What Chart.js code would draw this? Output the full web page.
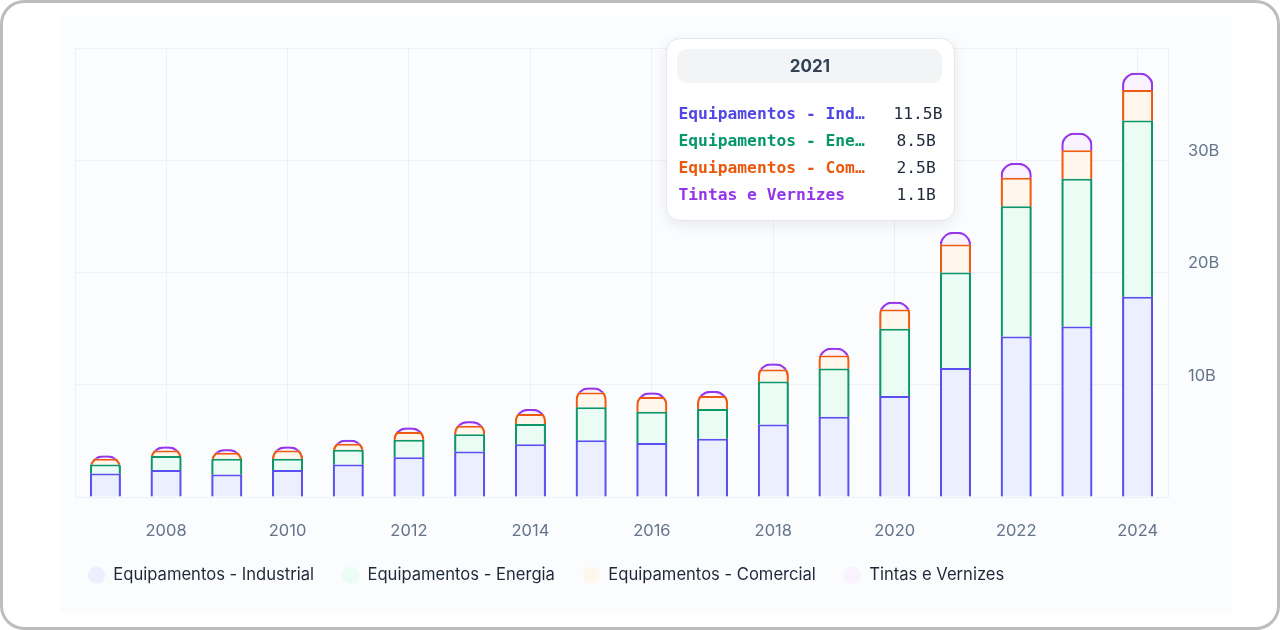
<!DOCTYPE html>
<html>
<head>
<meta charset="utf-8">
<script src="https://cdn.jsdelivr.net/npm/chart.js@4/dist/chart.umd.min.js"></script>
<style>
    html, body { margin: 0; padding: 0; background: #ffffff; }
    .card {
        position: relative;
        width: 1280px;
        height: 630px;
        box-sizing: border-box;
        border: 3px solid #bdbdbd;
        border-radius: 24px;
        background: #ffffff;
        overflow: hidden;
    }
    .chart-box {
        position: absolute;
        left: 57px;
        top: 13px;
        width: 1172px;
        height: 597px;
        background: #fbfcfd;
    }
    #tip {
        position: absolute;
        width: 289px;
        box-sizing: border-box;
        padding: 10px 12px 12px 10px;
        background: #ffffff;
        border: 1px solid #e3e6ec;
        border-radius: 14px;
        box-shadow: 0 4px 14px rgba(15, 23, 42, 0.08);
        pointer-events: none;
        opacity: 0;
    }
    #tip .tip-title {
        font: 700 17px Inter, sans-serif;
        height: 34px;
        line-height: 34px;
        border-radius: 10px;
        background: #f3f4f6;
        text-align: center;
        color: #334155;
        margin-bottom: 17px;
    }
    #tip .tip-row {
        font: 16.3px "DejaVu Sans Mono", monospace;
        display: flex;
        height: 27px;
        line-height: 27px;
        padding-left: 1px;
    }
    #tip .tip-label { width: 218px; font-weight: 700; white-space: nowrap; }
    #tip .tip-value { color: #1e293b; }
</style>
</head>
<body>
<div class="card">
    <div class="chart-box">
        <canvas id="fundChart"></canvas>
        <div id="tip"></div>
    </div>
</div>
<script>
// Chart data (values in billions)
const years = ['2007', '2008', '2009', '2010', '2011', '2012', '2013', '2014', '2015',
    '2016', '2017', '2018', '2019', '2020', '2021', '2022', '2023', '2024'];
const seriesNames = ['Equipamentos - Industrial', 'Equipamentos - Energia',
    'Equipamentos - Comercial', 'Tintas e Vernizes'];
const equipIndustrial = [2.1, 2.4, 2.0, 2.4, 2.9, 3.55, 4.05, 4.7, 5.05, 4.8, 5.2, 6.45, 7.15, 9.0, 11.5, 14.3, 15.2, 17.85];
const equipEnergia = [0.8, 1.25, 1.4, 1.0, 1.3, 1.55, 1.55, 1.8, 2.95, 2.8, 2.65, 3.85, 4.3, 6.0, 8.5, 11.6, 13.15, 15.7];
const equipComercial = [0.5, 0.5, 0.55, 0.75, 0.55, 0.7, 0.75, 0.9, 1.3, 1.3, 1.15, 1.05, 1.15, 1.7, 2.5, 2.55, 2.55, 2.7];
const tintasVernizes = [0.3, 0.35, 0.3, 0.35, 0.35, 0.4, 0.4, 0.45, 0.45, 0.4, 0.45, 0.55, 0.7, 0.7, 1.1, 1.3, 1.55, 1.55];
const yTicks = [0, 10, 20, 30, 40];
const tooltipYear = '2021';

const borderColors = ['#5a4ff0', '#0f9668', '#ee5a12', '#9536ec'];
const fillColors = ['#eceffe', '#eafcf3', '#fff6ec', '#f8f3ff'];
const labelColors = ['#4f46e5', '#059669', '#ea580c', '#9333ea'];

const gridColor = '#eef0f6';
const tickColor = '#64748b';
const capRadius = 13;

function shorten(label) {
    return label.length > 18 ? label.slice(0, 18) + '…' : label;
}

function formatB(v) {
    return v.toFixed(1) + 'B';
}

function externalTooltip(context) {
    const tip = document.getElementById('tip');
    const tooltip = context.tooltip;
    if (tooltip.opacity === 0) {
        tip.style.opacity = 0;
        return;
    }
    let html = '<div class="tip-title">' + tooltip.title.join(' ') + '</div>';
    tooltip.dataPoints.forEach(dp => {
        const i = dp.datasetIndex;
        html += '<div class="tip-row">' +
            '<span class="tip-label" style="color:' + labelColors[i] + '">' + shorten(dp.dataset.label) + '</span>' +
            '<span class="tip-value">' + formatB(dp.raw) + '</span></div>';
    });
    tip.innerHTML = html;
    const area = context.chart.chartArea;
    tip.style.left = (tooltip.caretX - tip.offsetWidth) + 'px';
    tip.style.top = (area.top - 10) + 'px';
    tip.style.opacity = 1;
}

// path of a whole stack with rounded top corners
function stackPath(c, left, top, width, bottom, r, closed) {
    r = Math.min(r, width / 2, bottom - top);
    c.moveTo(left, bottom);
    c.lineTo(left, top + r);
    c.arcTo(left, top, left + r, top, r);
    c.lineTo(left + width - r, top);
    c.arcTo(left + width, top, left + width, top + r, r);
    c.lineTo(left + width, bottom);
    if (closed) c.closePath();
}

function stackBoxes(chart) {
    const metas = chart.getSortedVisibleDatasetMetas();
    const bottomMeta = metas[0];
    const topMeta = metas[metas.length - 1];
    return bottomMeta.data.map((el, i) => {
        const topEl = topMeta.data[i];
        return { left: el.x - el.width / 2, width: el.width, top: topEl.y, bottom: el.base, index: i };
    });
}

// rounds the top of every stack, the curve keeps the colour of the segment it crosses
const roundedStacks = {
    id: 'roundedStacks',
    beforeDatasetsDraw(chart) {
        const c = chart.ctx;
        c.save();
        c.beginPath();
        stackBoxes(chart).forEach(b => stackPath(c, b.left, b.top, b.width, b.bottom + 2, capRadius, true));
        c.clip();
    },
    afterDatasetsDraw(chart) {
        const c = chart.ctx;
        c.restore();
        const metas = chart.getSortedVisibleDatasetMetas();
        stackBoxes(chart).forEach(b => {
            metas.forEach(meta => {
                const el = meta.data[b.index];
                c.save();
                c.beginPath();
                stackPath(c, b.left, b.top, b.width, b.bottom, capRadius, true);
                c.clip();
                c.beginPath();
                c.rect(b.left, el.y, b.width, el.base - el.y);
                c.clip();
                c.beginPath();
                stackPath(c, b.left, b.top, b.width, b.bottom, capRadius, false);
                c.lineWidth = 4;
                c.strokeStyle = borderColors[meta.index];
                c.stroke();
                c.restore();
            });
        });
    }
};

// fixed legend height so it sits close to the axis labels
const legendHeight = {
    id: 'legendHeight',
    afterInit(chart) {
        const legend = chart.legend;
        const fit = legend.fit;
        legend.fit = function() {
            fit.call(this);
            this.height = 50;
        };
    }
};

function makeDataset(i, values) {
    return {
        label: seriesNames[i],
        data: values,
        backgroundColor: fillColors[i],
        borderColor: borderColors[i],
        hoverBackgroundColor: fillColors[i],
        hoverBorderColor: borderColors[i],
        borderWidth: 2,
        barPercentage: 0.6,
        categoryPercentage: 0.85
    };
}

const datasets = [
    makeDataset(0, equipIndustrial),
    makeDataset(1, equipEnergia),
    makeDataset(2, equipComercial),
    makeDataset(3, tintasVernizes)
];

const ctx = document.getElementById('fundChart').getContext('2d');
const chart = new Chart(ctx, {
    type: 'bar',
    data: { labels: years, datasets: datasets },
    plugins: [roundedStacks, legendHeight],
    options: {
        responsive: true,
        maintainAspectRatio: false,
        animation: false,
        layout: { padding: { top: 32, right: 1, bottom: 24, left: 0 } },
        interaction: { mode: 'index', intersect: false },
        plugins: {
            legend: {
                position: 'bottom',
                align: 'start',
                labels: {
                    usePointStyle: true,
                    pointStyle: 'circle',
                    pointStyleWidth: 17,
                    boxHeight: 12,
                    padding: 28,
                    color: '#1e293b',
                    font: { family: 'Inter', size: 16.6 },
                    generateLabels: function(c) {
                        return Chart.defaults.plugins.legend.labels.generateLabels(c).map(item => {
                            item.lineWidth = 0;
                            item.strokeStyle = 'transparent';
                            return item;
                        });
                    }
                }
            },
            tooltip: {
                enabled: false,
                mode: 'index',
                external: externalTooltip
            }
        },
        scales: {
            x: {
                stacked: true,
                afterFit: axis => { axis.height = 42; },
                grid: {
                    offset: false,
                    drawTicks: false,
                    color: c => (c.index % 2 === 1 ? gridColor : 'rgba(0,0,0,0)')
                },
                border: { display: true, color: gridColor },
                ticks: {
                    autoSkip: false,
                    maxRotation: 0,
                    padding: 24,
                    color: tickColor,
                    font: { family: 'Inter', size: 16.5 },
                    callback: function(value, index) {
                        return index % 2 === 1 ? years[index] : '';
                    }
                }
            },
            y: {
                stacked: true,
                position: 'right',
                min: yTicks[0],
                max: yTicks[yTicks.length - 1],
                afterBuildTicks: axis => {
                    axis.ticks = yTicks.map(v => ({ value: v }));
                },
                afterFit: axis => { axis.width = 63; },
                grid: { color: gridColor, drawTicks: false },
                border: { display: true, color: gridColor },
                ticks: {
                    padding: 20,
                    labelOffset: -9,
                    color: tickColor,
                    font: { family: 'Inter', size: 16.5 },
                    callback: v => (v === yTicks[0] || v === yTicks[yTicks.length - 1]) ? '' : v + 'B'
                }
            },
            yLeft: {
                position: 'left',
                display: true,
                ticks: { display: false },
                grid: {
                    drawOnChartArea: false,
                    drawTicks: true,
                    tickLength: 15,
                    tickColor: 'rgba(0,0,0,0)'
                },
                border: { display: true, color: gridColor }
            }
        }
    }
});

// show the tooltip for the highlighted year
const activeIndex = years.indexOf(tooltipYear);
const active = datasets.map((d, i) => ({ datasetIndex: i, index: activeIndex }));
const bar = chart.getDatasetMeta(0).data[activeIndex];
chart.tooltip.setActiveElements(active, { x: bar.x, y: bar.y });
chart.update();
</script>
</body>
</html>
